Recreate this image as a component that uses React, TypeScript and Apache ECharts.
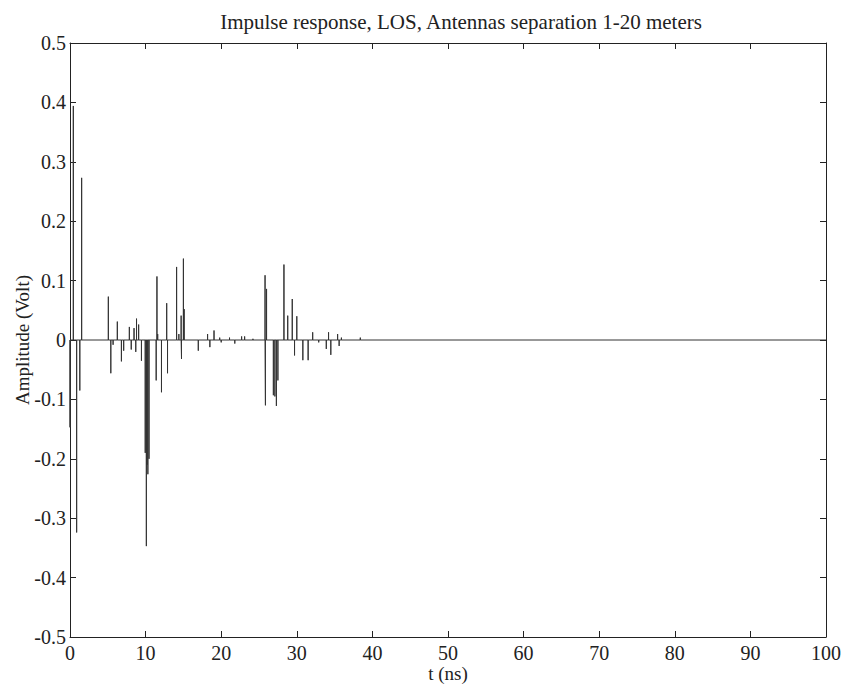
import React, { useEffect, useRef } from "react";
import * as echarts from "echarts";

const titleText = "Impulse response, LOS, Antennas separation 1-20 meters";
const xLabel = "t (ns)";
const yLabel = "Amplitude (Volt)";

const spikeTimes = [
  0.0, 0.44, 0.88, 1.3, 1.54, 5.07, 5.4, 5.7, 6.26, 6.8, 7.1, 7.85, 8.1, 8.47, 8.7, 8.8, 9.08, 9.45,
  9.95, 10.1, 10.2, 10.3, 10.45, 11.4, 11.5, 11.6, 12.1, 12.79, 12.9, 14.1, 14.4, 14.7, 14.75, 15.0, 15.1,
  16.97, 18.2, 18.5, 19.05, 19.8, 20.0, 21.1, 21.8, 22.7, 23.1, 24.2, 25.8, 25.85, 26.0, 26.9, 27.1,
  27.3, 27.5, 28.3, 28.8, 29.4, 29.7, 30.0, 30.8, 31.5, 32.1, 32.9, 33.9, 34.2, 34.5, 35.4, 35.6, 35.9, 38.4,
];
const spikeValues = [
  -0.147, 0.394, -0.324, -0.085, 0.273, 0.073, -0.056, -0.008, 0.031, -0.036, -0.018, 0.022, -0.016, 0.02,
  -0.02, 0.036, 0.026, -0.035, -0.19, -0.347, -0.21, -0.226, -0.2, -0.068, 0.107, 0.01, -0.088, 0.062, -0.056,
  0.123, 0.01, 0.041, -0.032, 0.137, 0.052, -0.018, 0.01, -0.012, 0.016, 0.004, -0.004, 0.004, -0.006, 0.006,
  0.006, 0.002, 0.109, -0.11, 0.086, -0.093, -0.095, -0.111, -0.068, 0.127, 0.041, 0.069, -0.026, 0.04, -0.034,
  -0.034, 0.013, -0.004, -0.015, 0.013, -0.025, 0.01, -0.01, 0.004, 0.004,
];
const xRange = [0, 100];
const yRange = [-0.5, 0.5];

const FONT = "'Liberation Serif', 'DejaVu Serif', serif";

export default function App() {
  const ref = useRef<HTMLDivElement>(null);
  useEffect(() => {
    if (!ref.current) return;
    const chart = echarts.init(ref.current, undefined, { renderer: "svg" });
    const stem: number[][] = [[xRange[0], 0]];
    spikeTimes.forEach((t, i) => {
      stem.push([t, 0], [t, spikeValues[i]], [t, 0]);
    });
    stem.push([xRange[1], 0]);

    const axisLine = { show: true, onZero: false, lineStyle: { color: "#222", width: 1 } };
    const tick = { show: true, inside: true, length: 6, lineStyle: { color: "#222" } };
    const labelStyle = { color: "#222", fontFamily: FONT, fontSize: 20 };

    chart.setOption({
      animation: false,
      backgroundColor: "#fff",
      title: {
        text: titleText,
        left: 456,
        top: 6,
        textAlign: "center",
        textStyle: { fontFamily: FONT, fontSize: 21, fontWeight: "normal", color: "#222" },
      },
      grid: { left: 70, right: 21, top: 43, bottom: 48, containLabel: false, outerBoundsMode: "none" },
      xAxis: [
        {
          type: "value",
          min: xRange[0],
          max: xRange[1],
          interval: 10,
          position: "bottom",
          axisLine,
          axisTick: tick,
          splitLine: { show: false },
          axisLabel: { ...labelStyle, margin: 6 },
          name: xLabel,
          nameLocation: "middle",
          nameGap: 27,
          nameMoveOverlap: false,
          nameTextStyle: { ...labelStyle, fontSize: 19 },
        },
        {
          type: "value",
          min: xRange[0],
          max: xRange[1],
          interval: 10,
          position: "top",
          axisLine,
          axisTick: tick,
          splitLine: { show: false },
          axisLabel: { show: false },
        },
      ],
      yAxis: [
        {
          type: "value",
          min: yRange[0],
          max: yRange[1],
          interval: 0.1,
          position: "left",
          axisLine,
          axisTick: tick,
          splitLine: { show: false },
          axisLabel: { ...labelStyle, margin: 4, formatter: (v: number) => String(Math.round(v * 10) / 10) },
          name: yLabel,
          nameLocation: "middle",
          nameGap: 38,
          nameMoveOverlap: false,
          nameRotate: 90,
          nameTextStyle: { ...labelStyle, fontSize: 19 },
        },
        {
          type: "value",
          min: yRange[0],
          max: yRange[1],
          interval: 0.1,
          position: "right",
          axisLine,
          axisTick: tick,
          splitLine: { show: false },
          axisLabel: { show: false },
        },
      ],
      series: [
        {
          type: "line",
          data: stem,
          showSymbol: false,
          symbol: "none",
          lineStyle: { color: "#333", width: 1 },
          xAxisIndex: 0,
          yAxisIndex: 0,
        },
      ],
    });
    return () => chart.dispose();
  }, []);
  return <div ref={ref} style={{ width: 847, height: 685, position: "absolute", left: 0, top: 0 }} />;
}
